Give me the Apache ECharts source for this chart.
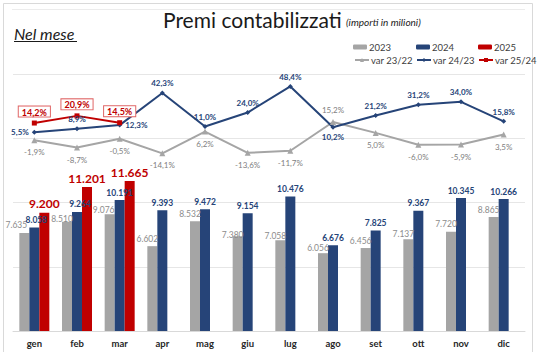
<!DOCTYPE html>
<html><head><meta charset="utf-8">
<script src="https://cdn.jsdelivr.net/npm/echarts@6/dist/echarts.min.js"></script>
<style>html,body{margin:0;padding:0;background:#fff}#c{width:541px;height:352px}</style>
</head><body><div id="c"></div>
<script>
const categories = ['gen','feb','mar','apr','mag','giu','lug','ago','set','ott','nov','dic'];
const val2023 = [7635,8510,9076,6602,8532,7380,7058,6056,6456,7137,7720,8865];
const val2024 = [8058,9264,10191,9393,9472,9154,10476,6676,7825,9367,10345,10266];
const val2025 = [9200,11201,11665,null,null,null,null,null,null,null,null,null];
const var2322 = [-1.9,-8.7,-0.5,-14.1,6.2,-13.6,-11.7,15.2,5.0,-6.0,-5.9,3.5];
const var2423 = [5.5,8.9,12.3,42.3,11.0,24.0,48.4,10.2,21.2,31.2,34.0,15.8];
const var2524 = [14.2,20.9,14.5,null,null,null,null,null,null,null,null,null];
const pos2423 = ['left','top','right','top','top','top','top','bottom','top','top','top','top'];
const pos2322 = ['bottom','bottom','bottom','bottom','bottom','bottom','bottom','top','bottom','bottom','bottom','bottom'];

const FONT = 'Lato';
const cGray = '#A5A5A5', cBlue = '#264478', cRed = '#C00000';
const fmtK = p => (p.value/1000).toFixed(3);
const fmtP = p => p.value.toFixed(1).replace('.', ',') + '%';
const grayShift = [[-8,0],[-5,5],[-6,3],[-5,0],[-5,0],[-5,6],[-5,3],[-5,2],[-5,0],[-5,2],[-5,0],[-5,0]];
const blueShift = [[2,0],[3,0],[0,0],[0,0],[0,0],[0,0],[0,0],[0,0],[0,0],[0,0],[0,0],[0,0]];

const chart = echarts.init(document.getElementById('c'), null, {renderer:'svg'});
function leg(name, left, top){
  return {data:[name], left:left, top:top, padding:0, itemWidth:14, itemHeight:5, itemGap:0,
    textStyle:{fontFamily:FONT, fontSize:9.5, color:'#404040', padding:[0,0,0,-3]}, selectedMode:false};
}
chart.setOption({
  animation:false,
  textStyle:{fontFamily:FONT},
  graphic:[
    {type:'rect', shape:{x:3.5,y:3.5,width:529,height:400}, style:{fill:'none', stroke:'#d9d9d9', lineWidth:1}, silent:true},
    {type:'line', shape:{x1:12,y1:9.5,x2:525,y2:9.5}, style:{stroke:'#ececec', lineWidth:1}, silent:true},
    {type:'text', x:163, y:19, style:{text:'Premi contabilizzati', font:'21px Lato', fill:'#1a1a1a', textVerticalAlign:'middle'}},
    {type:'text', x:346, y:22, style:{text:'(importi in milioni)', font:'italic 10px Lato', fill:'#1a1a1a', textVerticalAlign:'middle'}},
    {type:'text', x:14, y:33, style:{text:'Nel mese', font:'italic 16px Lato', fill:'#1a1a1a', textVerticalAlign:'middle'}},
    {type:'line', shape:{x1:14,y1:41.5,x2:77,y2:41.5}, style:{stroke:'#1a1a1a', lineWidth:1.2}, silent:true}
  ],
  legend:[
    leg('2023',353,42), leg('2024',416,42), leg('2025',478,42),
    leg('var 23/22',354,55), leg('var 24/23',416,55), leg('var 25/24',478,55)
  ],
  grid:{left:13, right:16, top:74, bottom:21},
  xAxis:{type:'category', data:categories, axisTick:{show:false},
    axisLine:{lineStyle:{color:'#d9d9d9'}},
    axisLabel:{fontFamily:FONT, fontSize:9.5, fontWeight:'bold', color:'#262626', margin:7}},
  yAxis:[
    {type:'value', min:0, max:20000, interval:5000, axisLabel:{show:false}, axisLine:{show:false}, axisTick:{show:false},
     splitLine:{lineStyle:{color:'#e6e6e6'}}},
    {type:'value', min:-180, max:60, interval:60, axisLabel:{show:false}, axisLine:{show:false}, axisTick:{show:false},
     splitLine:{show:false}}
  ],
  series:[
    {name:'2023', type:'bar', barWidth:10, barGap:'0%', itemStyle:{color:cGray},
     data:val2023.map((v,i)=>({value:v, label:{offset:grayShift[i]}})),
     label:{show:true, position:'top', distance:3, formatter:fmtK, fontSize:8.5, color:'#8c8c8c'}},
    {name:'2024', type:'bar', barWidth:10, barGap:'0%', itemStyle:{color:cBlue},
     data:val2024.map((v,i)=>({value:v, label:{offset:blueShift[i]}})),
     label:{show:true, position:'top', distance:3, formatter:fmtK, fontSize:8.5, fontWeight:'bold', color:cBlue}},
    {name:'2025', type:'bar', data:val2025, barWidth:10, barGap:'0%', itemStyle:{color:cRed},
     label:{show:true, position:'top', distance:3, formatter:fmtK, fontSize:12, fontWeight:'bold', color:cRed}},
    {name:'var 23/22', type:'line', yAxisIndex:1, symbol:'triangle', symbolSize:6,
     data:var2322.map((v,i)=>({value:v, label:{position:pos2322[i]}})),
     lineStyle:{color:cGray, width:2}, itemStyle:{color:cGray},
     label:{show:true, distance:5, formatter:fmtP, fontSize:8, color:'#808080'}},
    {name:'var 24/23', type:'line', yAxisIndex:1, symbol:'diamond', symbolSize:5,
     data:var2423.map((v,i)=>({value:v, label:{position:pos2423[i]}})),
     lineStyle:{color:cBlue, width:2}, itemStyle:{color:cBlue},
     label:{show:true, distance:3, formatter:fmtP, fontSize:8, fontWeight:'bold', color:cBlue}},
    {name:'var 25/24', type:'line', yAxisIndex:1, symbol:'rect', symbolSize:5,
     data:var2524, lineStyle:{color:cRed, width:2}, itemStyle:{color:cRed},
     label:{show:true, position:'top', distance:4, formatter:fmtP, fontSize:9, fontWeight:'bold', color:cRed,
       backgroundColor:'#fff', borderColor:'#e06666', borderWidth:1, padding:[1,3,0,3]}}
  ]
});
</script></body></html>
